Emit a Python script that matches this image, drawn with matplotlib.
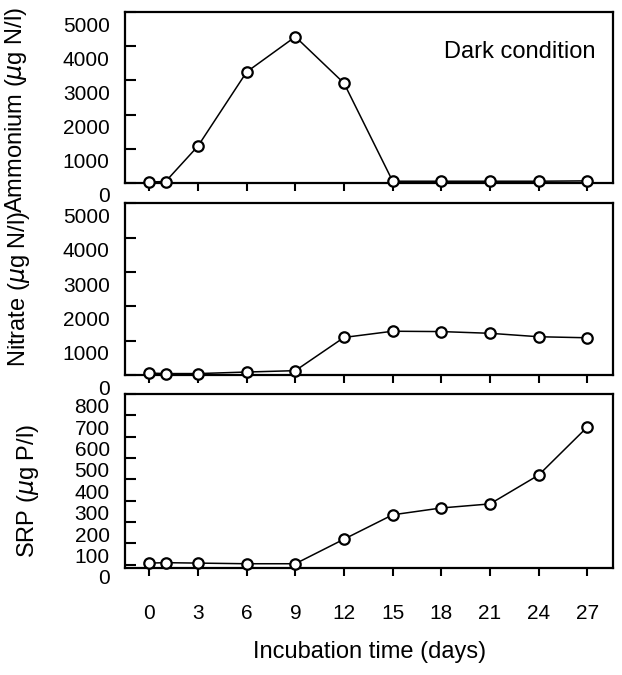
import numpy as np
import matplotlib
matplotlib.use("Agg")
import matplotlib.pyplot as plt
import matplotlib.transforms as mtransforms

plt.rcParams['font.family'] = ['Liberation Sans', 'DejaVu Sans']

# incubation days
days = [0, 1, 3, 6, 9, 12, 15, 18, 21, 24, 27]
xticks = [0, 3, 6, 9, 12, 15, 18, 21, 24, 27]

# concentrations
ammonium = [30, 40, 1080, 3250, 4280, 2920, 50, 50, 50, 50, 60]
nitrate = [65, 50, 50, 95, 135, 1100, 1280, 1270, 1220, 1120, 1090]
srp = [8, 10, 8, 5, 5, 120, 234, 266, 285, 420, 645]

ylabels = ["Ammonium ($\\mu$g N/l)", "Nitrate ($\\mu$g N/l)", "SRP ($\\mu$g P/l)"]
yticks_list = [[0, 1000, 2000, 3000, 4000, 5000],
               [0, 1000, 2000, 3000, 4000, 5000],
               [0, 100, 200, 300, 400, 500, 600, 700, 800]]
ylims = [(0, 5000), (0, 5000), (-15, 800)]
series = [ammonium, nitrate, srp]

fig = plt.figure(figsize=(6.22, 6.75), dpi=100)
# axes rectangles in figure fraction
rects = [[0.201, 0.729, 0.785, 0.253],
         [0.201, 0.444, 0.785, 0.255],
         [0.201, 0.1585, 0.785, 0.258]]
label_pos = [(-0.197, 0.427), (-0.19, 0.5), (-0.172, 0.44)]

axes = []
for i in range(3):
    ax = fig.add_axes(rects[i])
    ax.plot(days, series[i], color='black', lw=1.1, marker='o', ms=7.5,
            mfc='white', mec='black', mew=1.6, clip_on=False, zorder=3)
    ax.set_xlim(-1.5, 28.6)
    ax.set_ylim(*ylims[i])
    ax.set_yticks(yticks_list[i])
    ax.set_xticks(xticks)
    for s in ax.spines.values():
        s.set_linewidth(1.6)
    ax.tick_params(axis='y', direction='in', length=8, width=1.5,
                   labelsize=15, pad=11)
    ax.tick_params(axis='x', direction='out', length=6, width=1.5,
                   labelsize=15, pad=20)
    if i < 2:
        ax.tick_params(axis='x', labelbottom=False)
    # tick labels in the original sit a bit below their ticks
    offset = mtransforms.ScaledTranslation(0, -12 / 100, fig.dpi_scale_trans)
    for lab in ax.get_yticklabels():
        lab.set_transform(lab.get_transform() + offset)
    ax.set_ylabel(ylabels[i], fontsize=17)
    ax.yaxis.set_label_coords(*label_pos[i])
    axes.append(ax)

axes[0].text(0.963, 0.766, "Dark condition", transform=axes[0].transAxes,
             ha='right', va='center', fontsize=17)
axes[2].set_xlabel("Incubation time (days)", fontsize=17, labelpad=13)

fig.savefig("out.png", dpi=100)
